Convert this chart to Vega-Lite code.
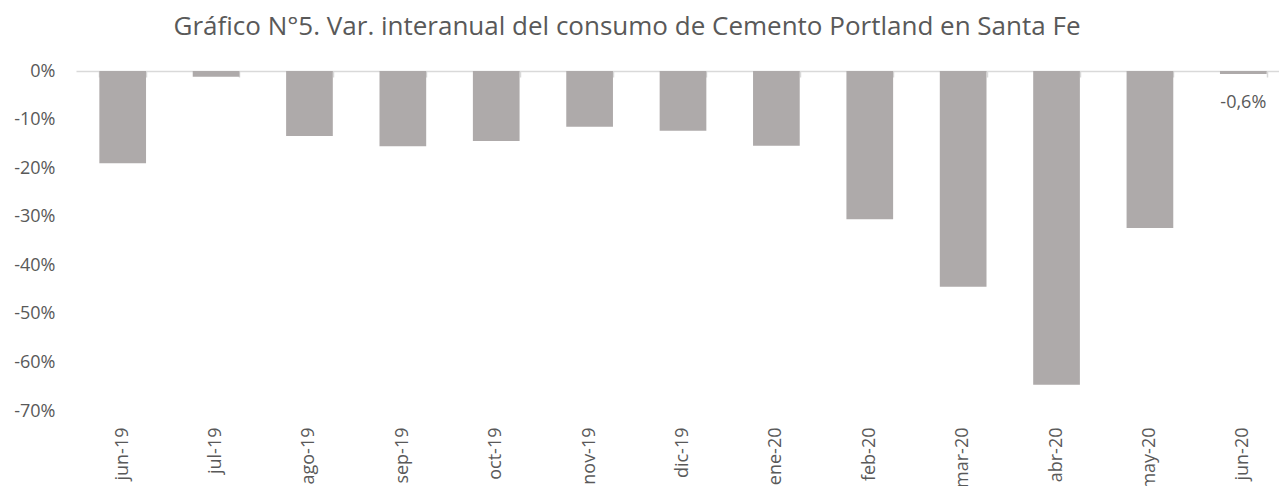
{
  "$schema": "https://vega.github.io/schema/vega-lite/v6.json",
  "autosize": {"type": "none"},
  "padding": {"left": 76, "top": 71, "right": 0, "bottom": 75},
  "width": 1214,
  "height": 340,
  "background": "white",
  "config": {
    "view": {"stroke": null},
    "font": "Open Sans",
    "axis": {"labelFont": "Open Sans", "labelColor": "#595959"}
  },
  "title": {
    "text": "Gráfico N°5. Var. interanual del consumo de Cemento Portland en Santa Fe",
    "font": "Open Sans",
    "fontSize": 26,
    "fontWeight": "normal",
    "color": "#595959",
    "anchor": "middle",
    "dx": -56,
    "offset": 22
  },
  "data": {
    "values": [
      {"mes": "jun-19", "var": -19.0, "etiqueta": ""},
      {"mes": "jul-19", "var": -1.2, "etiqueta": ""},
      {"mes": "ago-19", "var": -13.4, "etiqueta": ""},
      {"mes": "sep-19", "var": -15.5, "etiqueta": ""},
      {"mes": "oct-19", "var": -14.4, "etiqueta": ""},
      {"mes": "nov-19", "var": -11.5, "etiqueta": ""},
      {"mes": "dic-19", "var": -12.3, "etiqueta": ""},
      {"mes": "ene-20", "var": -15.4, "etiqueta": ""},
      {"mes": "feb-20", "var": -30.5, "etiqueta": ""},
      {"mes": "mar-20", "var": -44.4, "etiqueta": ""},
      {"mes": "abr-20", "var": -64.6, "etiqueta": ""},
      {"mes": "may-20", "var": -32.3, "etiqueta": ""},
      {"mes": "jun-20", "var": -0.6, "etiqueta": "-0,6%"}
    ]
  },
  "layer": [
    {
      "mark": {"type": "bar", "color": "#AEAAAA"},
      "encoding": {
        "x": {
          "field": "mes", "type": "nominal", "sort": null,
          "scale": {"paddingInner": 0.5, "paddingOuter": 0.25},
          "axis": {
            "orient": "top", "title": null, "labels": false,
            "domainColor": "#D9D9D9", "domainWidth": 1.5,
            "ticks": true, "tickBand": "extent", "tickSize": -6,
            "tickColor": "#D9D9D9", "tickWidth": 1.5
          }
        },
        "y": {
          "field": "var", "type": "quantitative",
          "scale": {"domain": [-70, 0], "nice": false},
          "axis": {
            "title": null, "values": [0, -10, -20, -30, -40, -50, -60, -70],
            "labelExpr": "datum.value + '%'",
            "grid": false, "domain": false, "ticks": false,
            "labelFontSize": 18, "labelPadding": 21
          }
        }
      }
    },
    {
      "mark": {"type": "text", "color": "#595959", "fontSize": 18, "dy": 29, "font": "Open Sans"},
      "encoding": {
        "x": {
          "field": "mes", "type": "nominal", "sort": null,
          "axis": {
            "orient": "bottom", "title": null, "labelAngle": -90,
            "labelFontSize": 18, "labelPadding": 16,
            "domain": false, "ticks": false
          }
        },
        "y": {"field": "var", "type": "quantitative"},
        "text": {"field": "etiqueta"}
      }
    }
  ],
  "resolve": {"axis": {"x": "independent"}}
}
